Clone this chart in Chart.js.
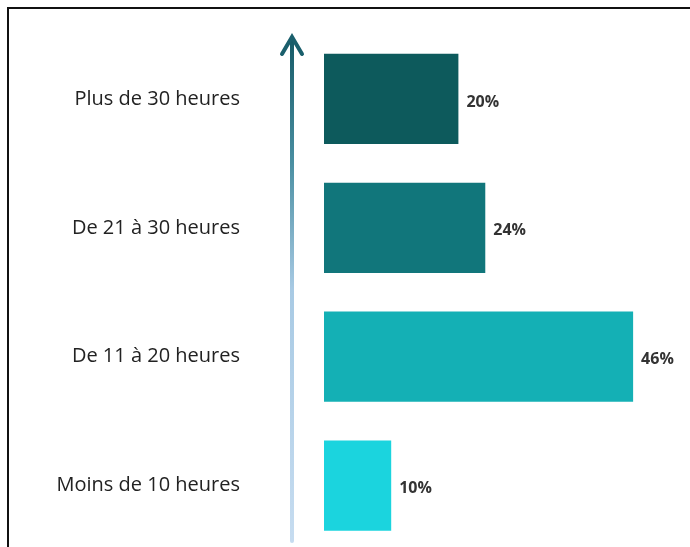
<!DOCTYPE html>
<html>
<head>
<meta charset="utf-8">
<script src="https://cdn.jsdelivr.net/npm/chart.js@4/dist/chart.umd.min.js"></script>
<style>
	html,body{margin:0;padding:0;background:#fff;overflow:hidden;}
	#wrap{position:relative;width:690px;height:560px;}
	#frame{position:absolute;left:7px;top:7px;right:0;bottom:0;border-left:2px solid #111;border-top:2px solid #111;pointer-events:none;}
</style>
</head>
<body>
<div id="wrap">
	<canvas id="c"></canvas>
	<div id="frame"></div>
</div>
<script>
// Data
const categories = ['Plus de 30 heures', 'De 21 à 30 heures', 'De 11 à 20 heures', 'Moins de 10 heures'];
const values = [20, 24, 46, 10];
const barColors = ['#0d5a5c', '#11767b', '#14b0b5', '#1bd4de'];

// Vertical arrow behind the bars
const arrowPlugin = {
	id: 'arrow',
	beforeDatasetsDraw(chart){
		const ctx = chart.ctx;
		const x = 292, top = 37, bottom = 541;
		const g = ctx.createLinearGradient(0, top, 0, bottom);
		g.addColorStop(0, '#155a66');
		g.addColorStop(0.25, '#4a8fa2');
		g.addColorStop(0.5, '#a8cae4');
		g.addColorStop(1, '#c6dcf0');
		ctx.save();
		ctx.strokeStyle = g;
		ctx.lineWidth = 4;
		ctx.lineCap = 'round';
		ctx.beginPath(); ctx.moveTo(x, bottom); ctx.lineTo(x, top + 2); ctx.stroke();
		ctx.strokeStyle = '#1a5f6c';
		ctx.lineWidth = 4;
		ctx.lineJoin = 'miter';
		ctx.beginPath(); ctx.moveTo(x - 10, 54); ctx.lineTo(x, 37); ctx.lineTo(x + 10, 54); ctx.stroke();
		ctx.restore();
	}
};

// Percent labels at the bar ends
const valueLabels = {
	id: 'valueLabels',
	afterDatasetsDraw(chart){
		const ctx = chart.ctx;
		const meta = chart.getDatasetMeta(0);
		ctx.save();
		ctx.font = 'bold 16px "Open Sans", sans-serif';
		ctx.fillStyle = '#333';
		ctx.textAlign = 'left';
		ctx.textBaseline = 'middle';
		meta.data.forEach((bar, i) => {
			ctx.fillText(values[i] + '%', bar.x + 8, bar.y + 3);
		});
		ctx.restore();
	}
};

new Chart(document.getElementById('c'), {
	type: 'bar',
	data: {
		labels: categories,
		datasets: [{ data: values, backgroundColor: barColors, borderWidth: 0, barPercentage: 0.7, categoryPercentage: 1 }]
	},
	options: {
		indexAxis: 'y',
		responsive: true,
		maintainAspectRatio: false,
		animation: false,
		layout: { padding: { left: 0, right: 30, top: 34.5, bottom: 10 } },
		plugins: { legend: { display: false }, tooltip: { enabled: false } },
		scales: {
			x: { min: 0, max: 50, display: false },
			y: {
				border: { display: false },
				grid: { display: false, drawTicks: false },
				ticks: { padding: 84, color: '#222', font: { family: '"Open Sans", sans-serif', size: 20 } },
				afterFit(scale){ scale.width = 324; scale.paddingTop = 0; scale.paddingBottom = 0; }
			}
		}
	},
	plugins: [arrowPlugin, valueLabels]
});
</script>
</body>
</html>
